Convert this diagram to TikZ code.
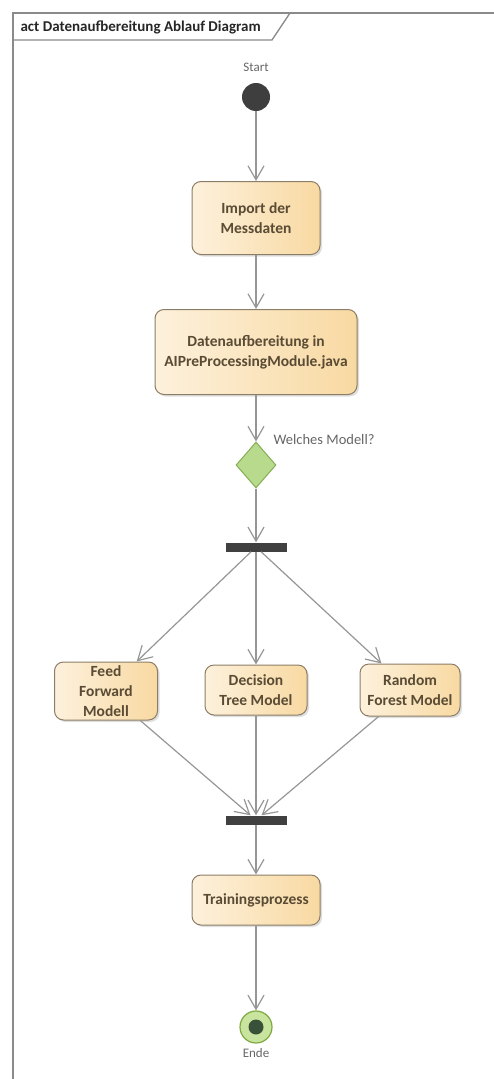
\documentclass[tikz,border=0pt]{standalone}
\usepackage{fontspec}
\setmainfont{Carlito}
\usepackage{tikz}
\usetikzlibrary{positioning, shapes.geometric, arrows.meta, shadows}

\definecolor{linegray}{HTML}{969696}
\definecolor{framegray}{HTML}{8A8A8A}
\definecolor{boxlight}{HTML}{FDF1DC}
\definecolor{boxdark}{HTML}{F8D9A2}
\definecolor{boxborder}{HTML}{8C7E66}
\definecolor{boxtext}{HTML}{5A4B35}
\definecolor{bardark}{HTML}{404040}
\definecolor{decfill}{HTML}{B7DA8C}
\definecolor{decborder}{HTML}{86AE55}
\definecolor{endfill}{HTML}{C9E49E}
\definecolor{endborder}{HTML}{7FAA3F}
\definecolor{dotdark}{HTML}{3E3E3E}
\definecolor{labelgray}{HTML}{666666}

\begin{document}
\begin{tikzpicture}[
                x=1pt, y=-1pt,
                >={Straight Barb[length=14pt,width=16pt,line width=1.2pt]},
                font=\fontsize{14}{18}\selectfont,
                action/.style={rectangle, draw=boxborder, rounded corners=9pt, align=center,
                        left color=boxlight, right color=boxdark, text=boxtext, line width=1pt,
                        font=\fontsize{15.5}{20}\selectfont\bfseries,
                        drop shadow={opacity=0.25, shadow xshift=2pt, shadow yshift=-2pt}},
                bar/.style={rectangle, fill=bardark, minimum width=61pt, minimum height=9pt, inner sep=0pt},
                decision/.style={diamond, draw=decborder, fill=decfill, line width=1pt,
                        minimum width=40pt, minimum height=46pt, inner sep=0pt},
                initial/.style={circle, fill=dotdark, minimum size=28pt, inner sep=0pt},
                final/.style={circle, draw=endborder, fill=endfill, line width=1.2pt,
                        minimum size=32pt, inner sep=0pt},
                tag/.style={text=labelgray, font=\fontsize{13}{15}\selectfont},
                flow/.style={->, linegray, line width=1.2pt},
            ]
            \useasboundingbox (0,0) rectangle (494,1079);

            % --- frame ------------------------------------------------------
            \draw[framegray, line width=1.3pt] (13,1079) -- (13,13) -- (494,13);
            \draw[framegray, line width=1.3pt] (13,40) -- (272,40) -- (290,13);
            \node[anchor=west, font=\fontsize{15}{17}\selectfont\bfseries, text=black!85] (title) at (17,27)
            {act Datenaufbereitung Ablauf Diagram};

            % --- start ------------------------------------------------------
            \node[initial] (start) at (256,97) {};
            \node[tag] (startlbl) at (256,67) {Start};

            % --- actions ----------------------------------------------------
            \node[action, minimum width=128pt, minimum height=73pt] (import) at (256,218)
            {Import der\\Messdaten};
            \node[action, minimum width=202pt, minimum height=85pt] (prep) at (256,352)
            {Datenaufbereitung in\\AIPreProcessingModule.java};

            \node[decision] (which) at (256,465) {};
            \node[tag, anchor=west, font=\fontsize{14.5}{16}\selectfont] (whichlbl) at (270,440) {Welches Modell?};

            \node[bar] (fork) at (256,547) {};

            \node[action, minimum width=103pt, minimum height=58pt] (ffm) at (106,691)
            {Feed\\Forward\\Modell};
            \node[action, minimum width=102pt, minimum height=50pt] (dtm) at (256,690)
            {Decision\\Tree Model};
            \node[action, minimum width=100pt, minimum height=52pt] (rfm) at (410,690)
            {Random\\Forest Model};

            \node[bar] (join) at (256,820) {};

            \node[action, minimum width=128pt, minimum height=50pt] (train) at (256,900)
            {Trainingsprozess};

            % --- end --------------------------------------------------------
            \node[final] (ende) at (256,1027) {};
            \node[circle, fill=dotdark!90!green, minimum size=15pt, inner sep=0pt] (endedot) at (256,1027) {};
            \node[tag] (endelbl) at (256,1053) {Ende};

            % --- control flow -----------------------------------------------
            \draw[flow] (start) -- (import);
            \draw[flow] (import) -- (prep);
            \draw[flow] (prep) -- (which);
            \draw[flow] (which) -- (fork);

            \draw[flow] (fork) -- (ffm);
            \draw[flow] (fork) -- (dtm);
            \draw[flow] (fork) -- (rfm);

            \draw[flow] (ffm) -- (join);
            \draw[flow] (dtm) -- (join);
            \draw[flow] (rfm) -- (join);

            \draw[flow] (join) -- (train);
            \draw[flow] (train) -- (ende);
        \end{tikzpicture}
\end{document}
